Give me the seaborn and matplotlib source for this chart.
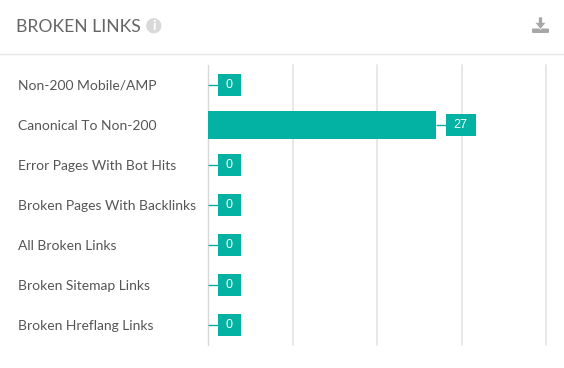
import matplotlib
matplotlib.use('Agg')
import matplotlib.pyplot as plt
from matplotlib.lines import Line2D
from matplotlib.patches import Circle, Polygon, Rectangle, FancyBboxPatch
import pandas as pd
import seaborn as sns

categories = ['Non-200 Mobile/AMP', 'Canonical To Non-200', 'Error Pages With Bot Hits',
              'Broken Pages With Backlinks', 'All Broken Links', 'Broken Sitemap Links',
              'Broken Hreflang Links']
values = [0, 27, 0, 0, 0, 0, 0]
x_ticks = [0, 10, 20, 30, 40]

W, H = 564, 368
TEAL = '#03b2a2'
TEXT = '#555555'

sns.set_theme(style='white')
plt.rcParams['font.family'] = ['Lato', 'DejaVu Sans']

df = pd.DataFrame({'category': categories, 'value': values})

fig = plt.figure(figsize=(W / 100, H / 100), dpi=100)
fig.patch.set_facecolor('white')

# plot area in pixels: x 208-546, y 65-345
ax = fig.add_axes([208 / W, 1 - 345 / H, (546 - 208) / W, 280 / H])
sns.barplot(data=df, x='value', y='category', color=TEAL, saturation=1, width=0.7, ax=ax,
            zorder=3, linewidth=0)
ax.set_xlim(x_ticks[0], x_ticks[-1])
ax.set_ylim(len(categories) - 0.5, -0.5)
ax.set_xlabel('')
ax.set_ylabel('')
ax.set_xticks(x_ticks)
ax.set_xticklabels([])
ax.tick_params(axis='x', length=0)
ax.tick_params(axis='y', length=0, pad=136.7, labelsize=10, labelcolor=TEXT)
for lab in ax.get_yticklabels():
    lab.set_ha('left')
sns.despine(ax=ax, left=True, bottom=True, top=True, right=True)

for t in x_ticks:
    ax.axvline(t, color='#d9d9d9' if t == 0 else '#e6e6e6', lw=1.0 if t == 0 else 1.3,
               zorder=1, clip_on=False)

# value boxes, sizes are pixels turned into data units
px_x = (x_ticks[-1] - x_ticks[0]) / (546 - 208)
px_y = len(categories) / 280
for i, v in enumerate(values):
    box_w = (23 if v < 10 else 30) * px_x
    box_x = v + (10 if v < 10 else 9.5) * px_x
    ax.plot([v, box_x], [i, i], color=TEAL, lw=1, zorder=2, solid_capstyle='butt')
    ax.add_patch(Rectangle((box_x, i - 11 * px_y), box_w, 22 * px_y, color=TEAL, lw=0, zorder=4))
    ax.text(box_x + box_w / 2, i, str(v), color='white', fontsize=9, ha='center',
            va='center', zorder=5, family=['Liberation Sans', 'DejaVu Sans'])

# header drawn on a pixel overlay
top = fig.add_axes([0, 0, 1, 1], zorder=5)
top.set_xlim(0, W)
top.set_ylim(H, 0)
top.axis('off')
top.patch.set_alpha(0)
top.text(15.5, 26.5, 'BROKEN LINKS', fontsize=12.6, color='#666666', va='center', ha='left')
top.add_line(Line2D([0, W], [54, 54], color='#e8e8e8', lw=1))
top.add_patch(Circle((153.8, 25.8), 7.6, color='#d9d9d9', lw=0))
top.text(153.8, 25.8, 'i', fontsize=10, fontweight='bold', color='white', ha='center', va='center')

# download icon
top.add_patch(FancyBboxPatch((532, 28.5), 17, 4.5, boxstyle='round,pad=0,rounding_size=1.2',
                             color='#a6a6a6', lw=0))
top.add_patch(Polygon([(538.5, 17), (542.5, 17), (542.5, 22.5), (546, 22.5), (540.5, 29.5),
                       (535, 22.5), (538.5, 22.5)], closed=True, facecolor='#a6a6a6',
                      edgecolor='white', lw=0.5))

fig.savefig('out.png', dpi=100)
plt.close()
